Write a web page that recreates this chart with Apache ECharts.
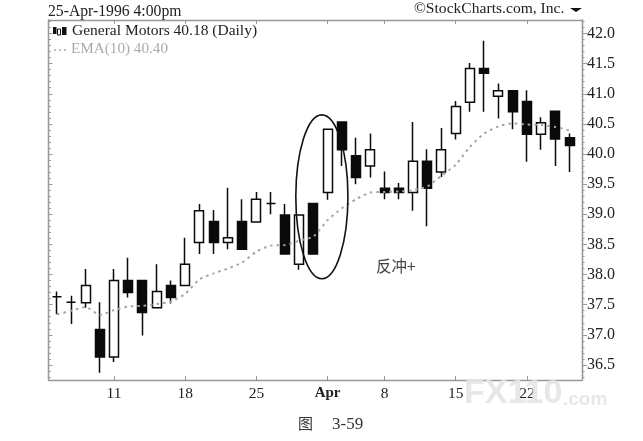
<!DOCTYPE html>
<html><head><meta charset="utf-8">
<style>html,body{margin:0;padding:0;background:#fff}#c{width:643px;height:441px}</style>
<script src="https://cdn.jsdelivr.net/npm/echarts@6/dist/echarts.min.js"></script>
</head><body><div id="c"></div>
<script>
// open, close, low, high per trading day
const open  = [37.63,37.54,37.53,37.09,36.63,37.90,37.90,37.45,37.82,37.82,38.53,38.88,38.53,38.88,38.87,39.18,38.99,38.17,39.18,39.36,40.53,39.97,39.80,39.43,39.43,39.36,39.88,39.70,40.34,40.86,41.42,40.96,41.05,40.87,40.33,40.71,40.27];
const close = [37.63,37.54,37.82,36.63,37.90,37.70,37.37,37.72,37.62,38.17,39.06,38.53,38.61,38.42,39.25,39.18,38.34,38.99,38.34,40.41,40.07,39.61,40.07,39.36,39.36,39.88,39.43,40.07,40.79,41.42,41.34,41.05,40.70,40.33,40.52,40.25,40.14];
const low   = [37.34,37.18,37.45,36.37,36.55,37.62,36.99,37.45,37.52,37.82,38.34,38.34,38.42,38.42,38.87,39.00,38.34,38.08,38.34,39.24,39.80,39.50,39.61,39.25,39.25,39.06,38.80,39.62,40.24,40.70,40.70,40.59,40.41,39.87,40.07,39.80,39.70];
const high  = [37.72,37.65,38.09,37.54,38.09,38.28,37.90,38.17,37.90,38.61,39.17,39.07,39.44,39.25,39.37,39.37,39.17,38.99,39.18,40.41,40.53,40.27,40.34,39.71,39.52,40.53,40.08,40.43,40.88,41.51,41.88,41.17,41.05,41.06,40.61,40.71,40.34];
const ema   = [37.34,37.40,37.46,37.33,37.41,37.47,37.48,37.51,37.55,37.68,37.92,38.02,38.10,38.20,38.38,38.48,38.49,38.56,38.63,38.90,39.10,39.25,39.36,39.37,39.38,39.40,39.46,39.64,39.82,40.12,40.34,40.46,40.51,40.49,40.48,40.45,40.39];
const tickIndex  = [4,9,14,19,23,28,33];
const tickLabels = ['11','18','25','Apr','8','15','22'];
const priceTicks = [36.5,37,37.5,38,38.5,39,39.5,40,40.5,41,41.5,42];
const minorPriceTicks = [36.3,36.4,36.6,36.7,36.8,36.9,37.1,37.2,37.3,37.4,37.6,37.7,37.8,37.9,38.1,38.2,38.3,38.4,38.6,38.7,38.8,38.9,39.1,39.2,39.3,39.4,39.6,39.7,39.8,39.9,40.1,40.2,40.3,40.4,40.6,40.7,40.8,40.9,41.1,41.2,41.3,41.4,41.6,41.7,41.8,41.9,42.1,42.2];
const ellipse = [18.6,39.29,1.83,1.36]; // centre day, centre price, radius in days, radius in price

const candles = open.map((o,i)=>[i,o,close[i],low[i],high[i]]);
const serif = '"Liberation Serif","Times New Roman",serif';
const frame = '#999';
const xBase = {type:'value',min:-0.6,max:36.87,splitLine:{show:false},
  axisLine:{show:true,onZero:false,lineStyle:{color:frame,width:1.3}},
  axisTick:{show:true,inside:true,length:4,customValues:tickIndex,lineStyle:{color:frame}}};
const yBase = {type:'value',min:36.25,max:42.224,splitLine:{show:false},
  axisLine:{show:true,onZero:false,lineStyle:{color:frame,width:1.3}},axisLabel:{show:false}};
const tick = (vals,len,inside)=>({show:true,customValues:vals,length:len,inside,lineStyle:{color:frame}});
const chart = echarts.init(document.getElementById('c'),null,{renderer:'canvas'});
chart.setOption({
  animation:false,backgroundColor:'#fff',
  grid:{left:48.5,top:20,width:533.5,height:360},
  xAxis:[
    {...xBase,position:'bottom',axisLabel:{show:true,customValues:tickIndex,margin:6,
      formatter:v=>{const s=tickLabels[tickIndex.indexOf(v)];return s==='Apr'?'{b|Apr}':s;},
      rich:{b:{fontFamily:serif,fontSize:15,fontWeight:'bold',color:'#222'}},
      fontFamily:serif,fontSize:15.5,color:'#222'}},
    {...xBase,position:'top',axisLabel:{show:false}}
  ],
  yAxis:[
    {...yBase,position:'right',axisTick:tick(priceTicks,5,false),
      axisLabel:{show:true,margin:5,formatter:v=>v.toFixed(1),customValues:priceTicks,fontFamily:serif,fontSize:16,color:'#222'}},
    {...yBase,position:'right',axisTick:tick(minorPriceTicks,2.5,false)},
    {...yBase,position:'left',axisTick:tick(priceTicks,4,true)},
    {...yBase,position:'left',axisTick:tick(minorPriceTicks,2.5,true)}
  ],
  series:[
    {type:'candlestick',data:candles,encode:{x:0,y:[1,2,3,4]},barWidth:9.5,z:2,
      itemStyle:{color:'#fff',color0:'#0a0a0a',borderColor:'#0a0a0a',borderColor0:'#0a0a0a',borderWidth:1.5}},
    {type:'line',data:ema.map((v,i)=>[i,v]),smooth:0.2,showSymbol:false,z:3,
      lineStyle:{color:'#a4a4a4',width:2,type:[2.5,4]}},
    {type:'custom',data:[ellipse],z:4,silent:true,clip:false,encode:{x:0,y:1},
      renderItem:(p,api)=>{
        const c=api.coord([api.value(0),api.value(1)]);
        const e=api.coord([api.value(0)+api.value(2),api.value(1)+api.value(3)]);
        return {type:'ellipse',shape:{cx:c[0],cy:c[1],rx:Math.abs(e[0]-c[0]),ry:Math.abs(e[1]-c[1])},
          style:{fill:null,stroke:'#111',lineWidth:1.6}};
      }}
  ],
  graphic:[
    {type:'text',left:48,top:4,style:{text:'25-Apr-1996 4:00pm',font:'15.7px '+serif,fill:'#222'}},
    {type:'text',left:414,top:1,style:{text:'©StockCharts.com, Inc.',font:'15.6px '+serif,fill:'#222'}},
    {type:'polygon',shape:{points:[[570,8],[582,8],[576,12]]},style:{fill:'#111'}},
    {type:'rect',shape:{x:53,y:27,width:3.5,height:7},style:{fill:'#111'}},
    {type:'rect',shape:{x:57.5,y:29,width:3,height:6},style:{fill:'#fff',stroke:'#111',lineWidth:1}},
    {type:'rect',shape:{x:62,y:27,width:4.5,height:8},style:{fill:'#111'}},
    {type:'text',left:72,top:23,style:{text:'General Motors 40.18 (Daily)',font:'15.5px '+serif,fill:'#222'}},
    {type:'line',shape:{x1:54,y1:50,x2:68,y2:50},style:{stroke:'#aaa',lineWidth:1.5,lineDash:[2,3]}},
    {type:'text',left:71,top:42,style:{text:'EMA(10) 40.40',font:'15.2px '+serif,fill:'#aaa'}},
    {type:'text',left:376,top:258,style:{text:'反冲+',font:'15.5px "Noto Sans CJK SC"',fill:'#444'}},
    {type:'text',left:298,top:416,style:{text:'图',font:'15px "Noto Sans CJK SC"',fill:'#333'}},
    {type:'text',left:332,top:416,style:{text:'3-59',font:'17px '+serif,fill:'#333'}},
    {type:'text',left:464,top:377,z:10,style:{text:'FX110',font:'bold 34px "Liberation Sans"',fill:'rgba(228,228,228,0.9)'}},
    {type:'text',left:563,top:390,z:10,style:{text:'.com',font:'bold 19px "Liberation Sans"',fill:'rgba(228,228,228,0.9)'}}
  ]
});
</script></body></html>
